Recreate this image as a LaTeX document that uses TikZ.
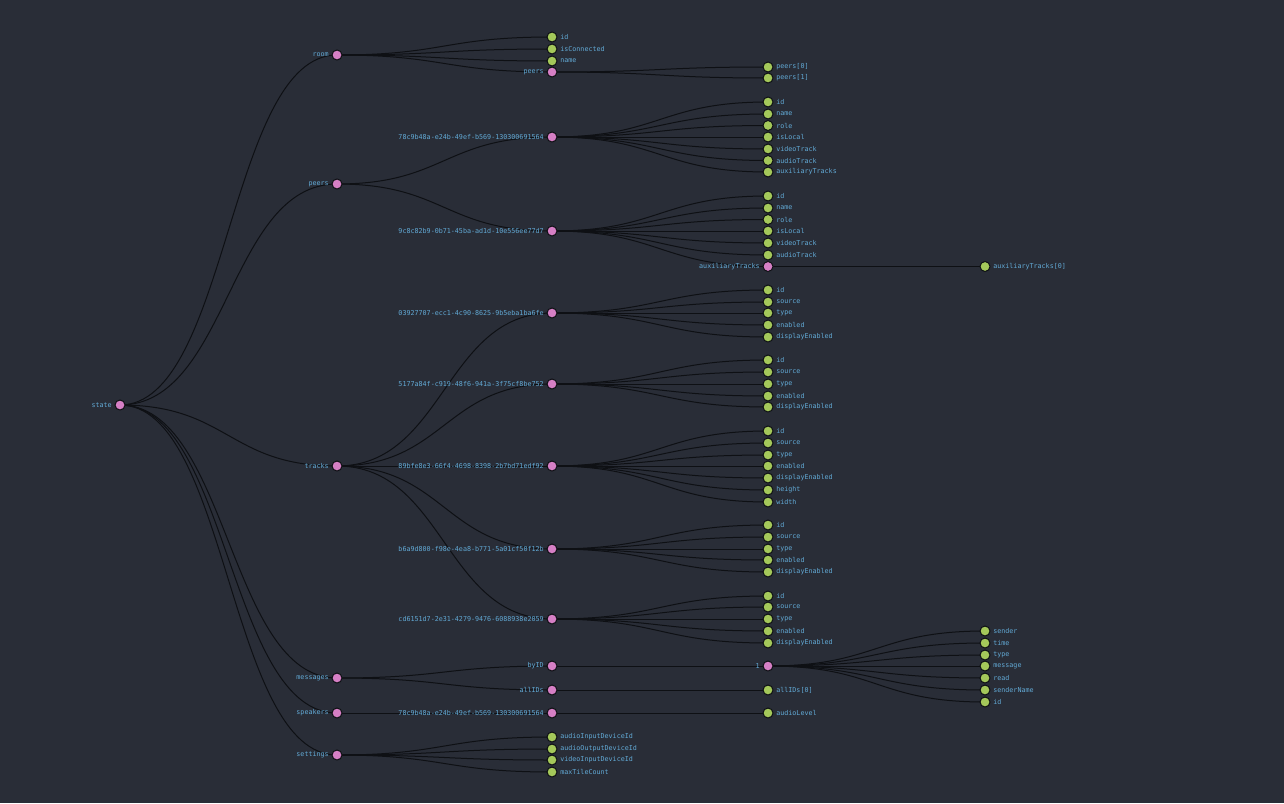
\documentclass[tikz,border=0pt]{standalone}
\usepackage{fontspec}
\setmonofont{DejaVu Sans Mono}
\usetikzlibrary{calc}
\pgfdeclarelayer{bg}\pgfdeclarelayer{edges}
\pgfsetlayers{bg,edges,main}
\definecolor{bgc}{HTML}{292D37}
\definecolor{pinkc}{HTML}{D67FC5}
\definecolor{greenc}{HTML}{A4C85A}
\definecolor{edgec}{HTML}{0E1014}
\definecolor{txtc}{HTML}{62AAD6}
\tikzset{
  dot/.style={circle,draw=edgec,line width=1pt,minimum size=10pt,inner sep=0pt},
  lbl/.style={text=txtc,font=\fontsize{6.7}{7}\selectfont\ttfamily,inner sep=2.6pt},
  pl/.style={dot,fill=pinkc,label={[lbl]left:{#1}}},
  gl/.style={dot,fill=greenc,label={[lbl]right:{#1}}},
  edge/.style={draw=edgec,line width=1pt}
}
\newcommand{\lnk}[2]{\begin{pgfonlayer}{edges}\draw[edge] let \p1=(#1.center),\p2=(#2.center) in (\p1) .. controls ({0.5*\x1+0.5*\x2},\y1) and ({0.5*\x1+0.5*\x2},\y2) .. (\p2);\end{pgfonlayer}}
\newcommand{\lnks}[2]{\foreach \c in {#2}{\lnk{#1}{\c}}}
\begin{document}
\begin{tikzpicture}[x=1pt,y=-1pt]
\begin{pgfonlayer}{bg}
\fill[bgc] (0,0) rectangle (1284,803);
\end{pgfonlayer}
\useasboundingbox (0,0) rectangle (1284,803);
% level 0
\node[pl=state] (s) at (120,405) {};
% level 1
\node[pl=room] (r) at (337,55) {};
\node[pl=peers] (p) at (337,184) {};
\node[pl=tracks] (t) at (337,466) {};
\node[pl=messages] (m) at (337,678) {};
\node[pl=speakers] (sp) at (337,713) {};
\node[pl=settings] (st) at (337,755) {};
\lnks{s}{r,p,t,m,sp,st}
% room
\node[gl=id] (r1) at (552,37) {};
\node[gl=isConnected] (r2) at (552,49) {};
\node[gl=name] (r3) at (552,61) {};
\node[pl=peers] (rp) at (552,72) {};
\lnks{r}{r1,r2,r3,rp}
\node[gl={peers[0]}] (rp0) at (768,67) {};
\node[gl={peers[1]}] (rp1) at (768,78) {};
\lnks{rp}{rp0,rp1}
% peers
\node[pl=78c9b48a-e24b-49ef-b569-130300691564] (pa) at (552,137) {};
\node[pl=9c8c82b9-0b71-45ba-ad1d-10e556ee77d7] (pb) at (552,231) {};
\lnks{p}{pa,pb}
\node[gl=id] (pa1) at (768,102) {};
\node[gl=name] (pa2) at (768,114) {};
\node[gl=role] (pa3) at (768,125.5) {};
\node[gl=isLocal] (pa4) at (768,137) {};
\node[gl=videoTrack] (pa5) at (768,149) {};
\node[gl=audioTrack] (pa6) at (768,160.5) {};
\node[gl=auxiliaryTracks] (pa7) at (768,172) {};
\lnks{pa}{pa1,pa2,pa3,pa4,pa5,pa6,pa7}
\node[gl=id] (pb1) at (768,196) {};
\node[gl=name] (pb2) at (768,208) {};
\node[gl=role] (pb3) at (768,219.5) {};
\node[gl=isLocal] (pb4) at (768,231) {};
\node[gl=videoTrack] (pb5) at (768,243) {};
\node[gl=audioTrack] (pb6) at (768,255) {};
\node[pl=auxiliaryTracks] (pb7) at (768,266.5) {};
\lnks{pb}{pb1,pb2,pb3,pb4,pb5,pb6,pb7}
\node[gl={auxiliaryTracks[0]}] (pb70) at (985,266.5) {};
\lnk{pb7}{pb70}
% tracks
\node[pl=03927707-ecc1-4c90-8625-9b5eba1ba6fe] (ta) at (552,313) {};
\node[pl=5177a84f-c919-48f6-941a-3f75cf8be752] (tb) at (552,384) {};
\node[pl=89bfe8e3-66f4-4698-8398-2b7bd71edf92] (tc) at (552,466) {};
\node[pl=b6a9d800-f98e-4ea8-b771-5a01cf50f12b] (td) at (552,549) {};
\node[pl=cd6151d7-2e31-4279-9476-6088938e2059] (te) at (552,619) {};
\lnks{t}{ta,tb,tc,td,te}
\node[gl=id] (ta1) at (768,290) {};
\node[gl=source] (ta2) at (768,302) {};
\node[gl=type] (ta3) at (768,313) {};
\node[gl=enabled] (ta4) at (768,325) {};
\node[gl=displayEnabled] (ta5) at (768,337) {};
\lnks{ta}{ta1,ta2,ta3,ta4,ta5}
\node[gl=id] (tb1) at (768,360) {};
\node[gl=source] (tb2) at (768,372) {};
\node[gl=type] (tb3) at (768,384) {};
\node[gl=enabled] (tb4) at (768,396) {};
\node[gl=displayEnabled] (tb5) at (768,407) {};
\lnks{tb}{tb1,tb2,tb3,tb4,tb5}
\node[gl=id] (tc1) at (768,431) {};
\node[gl=source] (tc2) at (768,443) {};
\node[gl=type] (tc3) at (768,455) {};
\node[gl=enabled] (tc4) at (768,466) {};
\node[gl=displayEnabled] (tc5) at (768,478) {};
\node[gl=height] (tc6) at (768,490) {};
\node[gl=width] (tc7) at (768,502) {};
\lnks{tc}{tc1,tc2,tc3,tc4,tc5,tc6,tc7}
\node[gl=id] (td1) at (768,525) {};
\node[gl=source] (td2) at (768,537) {};
\node[gl=type] (td3) at (768,549) {};
\node[gl=enabled] (td4) at (768,560) {};
\node[gl=displayEnabled] (td5) at (768,572) {};
\lnks{td}{td1,td2,td3,td4,td5}
\node[gl=id] (te1) at (768,596) {};
\node[gl=source] (te2) at (768,607) {};
\node[gl=type] (te3) at (768,619) {};
\node[gl=enabled] (te4) at (768,631) {};
\node[gl=displayEnabled] (te5) at (768,643) {};
\lnks{te}{te1,te2,te3,te4,te5}
% messages
\node[pl=byID] (mb) at (552,666) {};
\node[pl=allIDs] (ma) at (552,690) {};
\lnks{m}{mb,ma}
\node[pl=1] (m1) at (768,666) {};
\lnk{mb}{m1}
\node[gl={allIDs[0]}] (ma0) at (768,690) {};
\lnk{ma}{ma0}
\node[gl=sender] (m11) at (985,631) {};
\node[gl=time] (m12) at (985,643) {};
\node[gl=type] (m13) at (985,655) {};
\node[gl=message] (m14) at (985,666) {};
\node[gl=read] (m15) at (985,678) {};
\node[gl=senderName] (m16) at (985,690) {};
\node[gl=id] (m17) at (985,702) {};
\lnks{m1}{m11,m12,m13,m14,m15,m16,m17}
% speakers
\node[pl=78c9b48a-e24b-49ef-b569-130300691564] (spa) at (552,713) {};
\lnk{sp}{spa}
\node[gl=audioLevel] (spa1) at (768,713) {};
\lnk{spa}{spa1}
% settings
\node[gl=audioInputDeviceId] (st1) at (552,737) {};
\node[gl=audioOutputDeviceId] (st2) at (552,749) {};
\node[gl=videoInputDeviceId] (st3) at (552,760) {};
\node[gl=maxTileCount] (st4) at (552,772) {};
\lnks{st}{st1,st2,st3,st4}
\end{tikzpicture}
\end{document}
